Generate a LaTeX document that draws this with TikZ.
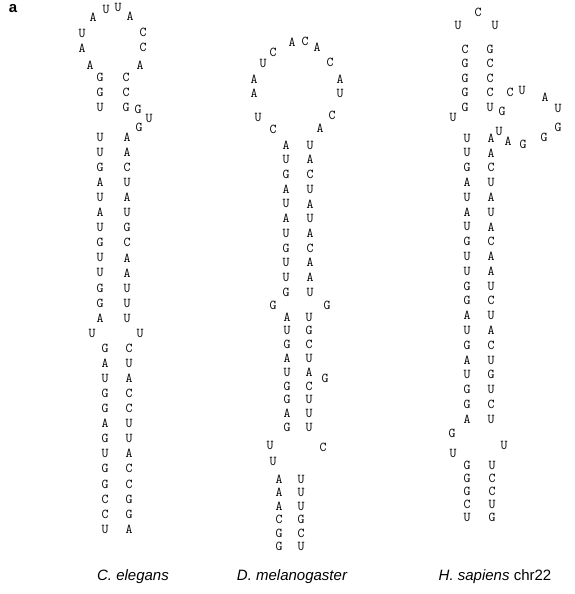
\documentclass[tikz,border=0pt]{standalone}
\usepackage{fontspec}
\setmainfont{Liberation Sans}
\begin{document}
\begin{tikzpicture}[x=1pt,y=-1pt]
\useasboundingbox (0,0) rectangle (574,594);
\node (panel)[font=\bfseries\fontsize{15}{15}\selectfont] at (13,9) {a};
\tikzstyle{every node}=[inner sep=0pt,font=\ttfamily\fontsize{13.5}{13.5}\selectfont];
\tikzstyle{species}=[font=\rmfamily\fontsize{15}{15}\selectfont];
% C. elegans
\foreach \n/\x/\y/\nt in {1/90/65/A,2/82/48/A,3/82/33/U,4/93/17/A,5/106/9/U,6/118/7/U,
  7/130/16/A,8/143/32/C,9/143/47/C,10/140/65/A}
  \node (ceT\n) at (\x,\y) {\nt};
\foreach \l/\r [count=\i from 0] in {G/C,G/C,U/G}{
  \node (ceL\i) at (100,{77+15.07*\i}) {\l};
  \node (ceR\i) at (126,{77+15.07*\i}) {\r};
}
\node (ceB1) at (138,109) {G};
\node (ceB2) at (149,118) {U};
\node (ceB3) at (139,127) {G};
\foreach \l/\r [count=\i from 4] in {U/A,U/A,G/C,A/U,U/A,A/U,U/G,G/C,U/A,U/A,G/U,G/U,A/U}{
  \node (ceL\i) at (100,{77+15.07*\i}) {\l};
  \node (ceR\i) at (127,{77+15.07*\i}) {\r};
}
\node (ceL17) at (92,333) {U};
\node (ceR17) at (140,333) {U};
\foreach \l/\r [count=\i from 18] in {G/C,A/U,U/A,G/C,G/C,A/U,G/U,U/A,G/C,G/C,C/G,C/G,U/A}{
  \node (ceL\i) at (105,{77+15.07*\i}) {\l};
  \node (ceR\i) at (129,{77+15.07*\i}) {\r};
}
\node (celab)[species] at (133,577) {\itshape C. elegans};
% D. melanogaster
\foreach \n/\x/\y/\nt in {1/273/129/C,2/258/117/U,3/254/93/A,4/254/79/A,5/263/63/U,6/273/52/C,
  7/292/42/A,8/305/41/C,9/317/47/A,10/330/62/C,11/340/79/A,12/340/93/U,13/332/115/C,14/320/128/A}
  \node (dmT\n) at (\x,\y) {\nt};
\foreach \l/\r [count=\i from 0] in {A/U,U/A,G/C,A/U,U/A,A/U,U/A,G/C,U/A,U/A,G/U}{
  \node (dmL\i) at (286,{145+14.7*\i}) {\l};
  \node (dmR\i) at (310,{145+14.7*\i}) {\r};
}
\node (dmB1) at (273,305) {G};
\node (dmB2) at (327,305) {G};
\foreach \l/\r [count=\i from 11] in {A/U,U/G,G/C,A/U,U/A,G/C,G/U,A/U,G/U}{
  \node (dmL\i) at (287,{317+13.8*(\i-11)}) {\l};
  \node (dmR\i) at (309,{317+13.8*(\i-11)}) {\r};
}
\node (dmB3) at (325,378) {G};
\node (dmB4) at (270,445) {U};
\node (dmB5) at (323,447) {C};
\node (dmB6) at (273,461) {U};
\foreach \l/\r [count=\i from 20] in {A/U,A/U,A/U,C/G,G/C,G/U}{
  \node (dmL\i) at (279,{479+13.5*(\i-20)}) {\l};
  \node (dmR\i) at (301,{479+13.5*(\i-20)}) {\r};
}
\node (dmlab)[species] at (292,577) {\itshape D. melanogaster};
% H. sapiens chr22
\foreach \n/\x/\y/\nt in {1/458/25/U,2/478/12/C,3/495/25/U}
  \node (hsT\n) at (\x,\y) {\nt};
\foreach \l/\r [count=\i from 0] in {C/G,G/C,G/C,G/C,G/U}{
  \node (hsL\i) at (465,{49+14.5*\i}) {\l};
  \node (hsR\i) at (490,{49+14.5*\i}) {\r};
}
\foreach \n/\x/\y/\nt in {1/502/111/G,2/510/92/C,3/522/90/U,4/545/97/A,5/558/108/U,6/558/127/G,
  7/544/137/G,8/523/144/G,9/508/141/A,10/499/131/U}
  \node (hsB\n) at (\x,\y) {\nt};
\node (hsB11) at (453,117) {U};
\foreach \l/\r [count=\i from 5] in {U/A,U/A,G/C,A/U,U/A,A/U,U/A,G/C,U/A,U/A,
  G/U,G/C,A/U,U/A,G/C,A/U,U/G,G/U,G/C,A/U}{
  \node (hsL\i) at (467,{138+14.8*(\i-5)}) {\l};
  \node (hsR\i) at (491,{138+14.8*(\i-5)}) {\r};
}
\node (hsB12) at (452,433) {G};
\node (hsB13) at (453,453) {U};
\node (hsB14) at (504,445) {U};
\foreach \l/\r [count=\i from 25] in {G/U,G/C,G/C,C/U,U/G}{
  \node (hsL\i) at (467,{465+13*(\i-25)}) {\l};
  \node (hsR\i) at (492,{465+13*(\i-25)}) {\r};
}
\node (hslab)[species] at (495,577) {{\itshape H. sapiens} chr22};
\end{tikzpicture}
\end{document}
